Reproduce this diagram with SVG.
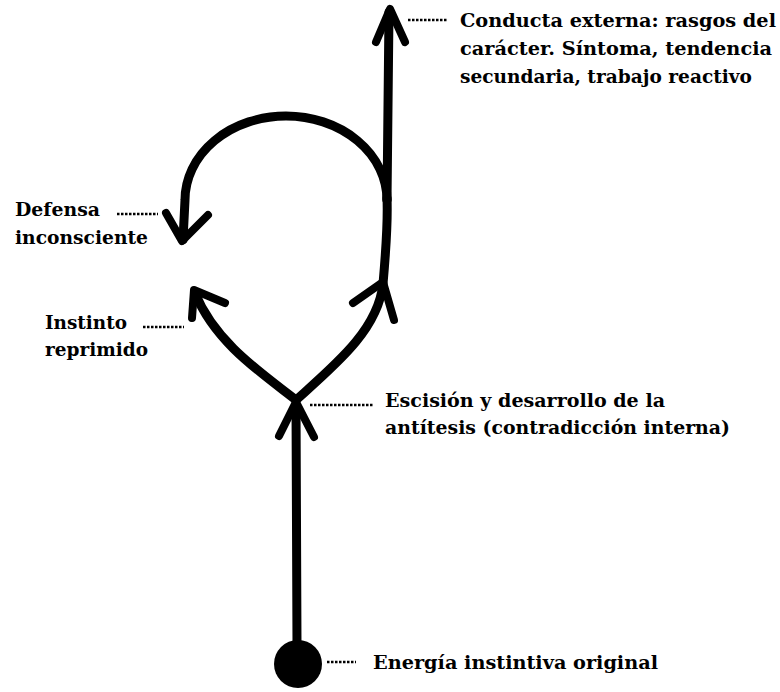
<svg xmlns="http://www.w3.org/2000/svg" width="780" height="692" viewBox="0 0 780 692">
<style>
.ln{fill:none;stroke:#000;stroke-width:9;stroke-linecap:round;stroke-linejoin:round}
.hd{fill:none;stroke:#000;stroke-width:8;stroke-linecap:round;stroke-linejoin:round}
.dot{fill:none;stroke:#000;stroke-width:2.5;stroke-dasharray:2.5,1.5}
text{font-family:"DejaVu Serif","Liberation Serif",serif;font-weight:bold;font-size:19px;fill:#000}
</style>
<rect width="780" height="692" fill="#fff"/>
<g id="connectors">
<path class="ln" d="M297,645 L296,404"/>
<polyline class="hd" points="279,436 296,402 314,437"/>
<path class="ln" d="M296,400 C260,372 215,342 195,293"/>
<polyline class="hd" points="192,318 194,290 225,303"/>
<path class="ln" d="M296,400 C335,365 378,330 383,284 C386,250 388,222 387,198"/>
<polyline class="hd" points="353,303 383,282 394,320"/>
<path class="ln" d="M387,200 A101,84 0 0 0 185,200 L183,240"/>
<polyline class="hd" points="166,213 182,241 208,215"/>
<path class="ln" d="M387,200 L389,12"/>
<polyline class="hd" points="376,42 390,9 405,42"/>
</g>
<g id="energia">
<circle cx="298" cy="664" r="24" fill="#000"/>
<line class="dot" x1="327" y1="662" x2="356" y2="662"/>
<text x="373" y="669" textLength="285" lengthAdjust="spacingAndGlyphs">Energía instintiva original</text>
</g>
<g id="escision">
<line class="dot" x1="310" y1="405" x2="373" y2="405"/>
<text x="385" y="407" textLength="280" lengthAdjust="spacingAndGlyphs">Escisión y desarrollo de la</text>
<text x="385" y="434" textLength="345" lengthAdjust="spacingAndGlyphs">antítesis (contradicción interna)</text>
</g>
<g id="instinto">
<line class="dot" x1="143" y1="327" x2="184" y2="327"/>
<text x="45" y="329" textLength="82" lengthAdjust="spacingAndGlyphs">Instinto</text>
<text x="45" y="356" textLength="103" lengthAdjust="spacingAndGlyphs">reprimido</text>
</g>
<g id="defensa">
<line class="dot" x1="117" y1="214" x2="158" y2="214"/>
<text x="15" y="216" textLength="85" lengthAdjust="spacingAndGlyphs">Defensa</text>
<text x="15" y="244" textLength="133" lengthAdjust="spacingAndGlyphs">inconsciente</text>
</g>
<g id="conducta">
<line class="dot" x1="408" y1="20" x2="448" y2="20"/>
<text x="460" y="27" textLength="316" lengthAdjust="spacingAndGlyphs">Conducta externa: rasgos del</text>
<text x="460" y="55" textLength="312" lengthAdjust="spacingAndGlyphs">carácter. Síntoma, tendencia</text>
<text x="460" y="83" textLength="292" lengthAdjust="spacingAndGlyphs">secundaria, trabajo reactivo</text>
</g>
</svg>
